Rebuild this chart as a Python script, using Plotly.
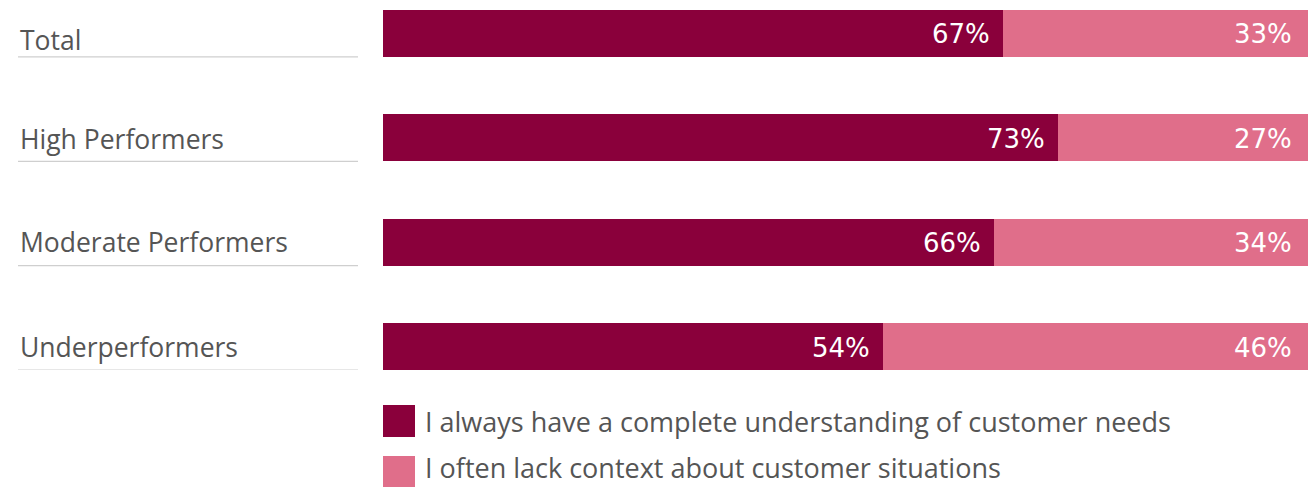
import plotly.graph_objects as go

categories = ["Total", "High Performers", "Moderate Performers", "Underperformers"]
always_understand = [67, 73, 66, 54]
lack_context = [33, 27, 34, 46]
series_names = [
    "I always have a complete understanding of customer needs",
    "I often lack context about customer situations",
]

DARK = "#8A003B"
LIGHT = "#E06E8A"
LABEL_GRAY = "#555555"
RULE_GRAY = "#CFCFCF"
LABEL_FONT = "Open Sans"
VALUE_FONT = "DejaVu Sans"

W, H = 1313, 487
M_L, M_R, M_T, M_B = 383, 5, 10, 117
BAR_W = 0.45
# vertical nudge (px) of each left-hand label relative to its bar centre
LABEL_SHIFT = [-7, -1, 0, 0]

fig = go.Figure()
fig.add_trace(go.Bar(
    y=categories, x=always_understand, orientation="h",
    marker=dict(color=DARK, line=dict(width=0)), width=BAR_W,
    name=series_names[0], showlegend=False, hoverinfo="skip",
))
fig.add_trace(go.Bar(
    y=categories, x=lack_context, orientation="h",
    marker=dict(color=LIGHT, line=dict(width=0)), width=BAR_W,
    name=series_names[1], showlegend=False, hoverinfo="skip",
))

plot_w = W - M_L - M_R
plot_h = H - M_T - M_B

annotations = []
shapes = []
for i, (cat, a, b) in enumerate(zip(categories, always_understand, lack_context)):
    # value labels at the right end of each segment
    annotations.append(dict(
        x=a, y=cat, xref="x", yref="y", text=f"{a}%", showarrow=False,
        xanchor="right", xshift=-11, yshift=-1,
        font=dict(family=VALUE_FONT, size=26, color="white"),
    ))
    annotations.append(dict(
        x=a + b, y=cat, xref="x", yref="y", text=f"{b}%", showarrow=False,
        xanchor="right", xshift=-14, yshift=-1,
        font=dict(family=VALUE_FONT, size=26, color="white"),
    ))
    # category label on the left with a rule beneath it
    annotations.append(dict(
        x=(18 - M_L) / plot_w, y=cat, xref="x domain", yref="y", text=cat,
        showarrow=False, xanchor="left", yanchor="middle", yshift=LABEL_SHIFT[i],
        font=dict(family=LABEL_FONT, size=26.5, color=LABEL_GRAY),
    ))
    shapes.append(dict(
        type="line", xref="x domain", yref="y",
        x0=(18 - M_L) / plot_w, x1=(358 - M_L) / plot_w,
        y0=i + BAR_W / 2, y1=i + BAR_W / 2,
        line=dict(color=RULE_GRAY, width=1.2),
    ))

# legend drawn as swatches with text beside them
sw = 32
leg_tops = [405, 456]
for k, (name, color, top) in enumerate(zip(series_names, [DARK, LIGHT], leg_tops)):
    y0 = (H - M_B - (top + sw)) / plot_h
    y1 = (H - M_B - top) / plot_h
    shapes.append(dict(
        type="rect", xref="paper", yref="paper",
        x0=0, x1=sw / plot_w, y0=y0, y1=y1,
        fillcolor=color, line=dict(width=0),
    ))
    if k == 0:
        text_pos = dict(y=(y0 + y1) / 2, yanchor="middle")
    else:
        # last entry sits flush with the bottom edge of the figure
        text_pos = dict(y=-M_B / plot_h, yanchor="bottom")
    annotations.append(dict(
        x=(424 - M_L) / plot_w, xref="paper", yref="paper",
        text=name, showarrow=False, xanchor="left", borderpad=0,
        font=dict(family=LABEL_FONT, size=27, color=LABEL_GRAY),
        **text_pos,
    ))

fig.update_layout(
    width=W, height=H, barmode="stack",
    margin=dict(l=M_L, r=M_R, t=M_T, b=M_B),
    paper_bgcolor="white", plot_bgcolor="white",
    xaxis=dict(range=[0, 100], visible=False, fixedrange=True),
    yaxis=dict(range=[len(categories) - 1 + BAR_W / 2, -BAR_W / 2],
               visible=False, fixedrange=True),
    bargap=0,
    annotations=annotations, shapes=shapes,
)

fig.write_html("out.html", config={"displayModeBar": False})
